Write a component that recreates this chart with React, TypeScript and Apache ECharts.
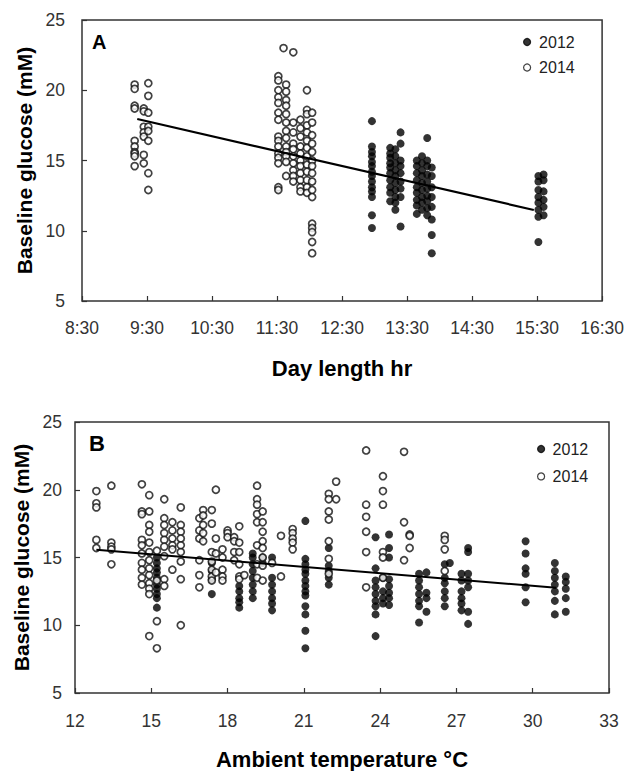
import React, { useEffect, useRef } from "react";
import * as echarts from "echarts";

// ---------- Panel A: day length (decimal hours) vs baseline glucose (mM) ----------
const DAY_AXIS_START = 8.5; // 8:30
const DAY_AXIS_END = 16.5; // 16:30

const dayLength2012: [number, number[]][] = [
  [12.96, [17.8, 16.0, 15.6, 15.3, 14.9, 14.6, 14.2, 13.9, 13.5, 13.1, 12.8, 12.4, 11.1, 10.2]],
  [13.24, [15.9, 15.5, 15.2, 14.8, 14.5, 14.1, 13.6, 13.1, 12.7, 12.1]],
  [13.32, [15.8, 15.3, 14.8, 14.3, 13.9, 13.4, 12.9, 12.4, 12.0, 11.5]],
  [13.4, [17.0, 16.2, 15.0, 14.6, 14.1, 13.5, 13.0, 12.4, 10.3]],
  [13.65, [15.0, 14.6, 14.1, 13.6, 13.1, 12.7, 12.2, 11.8, 11.2]],
  [13.73, [15.3, 14.8, 14.3, 13.9, 13.4, 12.9, 12.4, 12.0, 11.5]],
  [13.81, [16.6, 15.0, 14.6, 14.0, 13.5, 13.0, 12.5, 12.1, 11.6, 11.1]],
  [13.88, [14.5, 13.9, 13.1, 12.4, 11.7, 10.8, 9.7, 8.4]],
  [15.52, [13.9, 13.5, 12.9, 12.4, 12.0, 11.5, 11.0, 9.2]],
  [15.6, [14.0, 13.6, 12.8, 12.2, 11.7, 11.1]],
];

const dayLength2014: [number, number[]][] = [
  [9.31, [20.4, 20.1, 18.9, 18.7, 16.4, 16.0, 15.6, 15.5, 15.3, 14.6]],
  [9.45, [18.7, 18.5, 17.4, 17.0, 16.7, 15.4, 14.8]],
  [9.52, [20.5, 19.6, 18.4, 17.4, 17.1, 16.4, 14.1, 12.9]],
  [11.52, [21.0, 20.7, 20.0, 19.5, 19.1, 18.4, 17.9, 16.7, 16.4, 16.0, 15.5, 15.2, 14.8, 13.1, 12.9]],
  [11.6, [23.0]],
  [11.64, [20.4, 19.9, 19.3, 18.9, 18.3, 17.7, 17.1, 16.6, 16.0, 15.6, 15.3, 14.9, 13.9]],
  [11.75, [22.7, 17.7, 17.0, 16.2, 15.8, 15.3, 14.8, 14.3, 13.9, 13.5]],
  [11.86, [17.9, 17.3, 16.7, 16.0, 15.5, 15.0, 14.6, 14.1, 13.6, 13.1, 12.8]],
  [11.96, [20.0, 18.6, 18.3, 17.5, 17.0, 16.4, 15.9, 15.3, 14.7, 14.2, 13.6, 13.1, 12.7]],
  [12.04, [18.4, 17.7, 16.8, 16.2, 15.6, 15.0, 14.6, 14.1, 13.5, 12.9, 12.4, 10.5, 10.2, 9.9, 9.2, 8.4]],
];

const dayLengthTrend: [number, number][] = [
  [9.35, 17.95],
  [15.45, 11.48],
];

// ---------- Panel B: ambient temperature (°C) vs baseline glucose (mM) ----------
const temp2012: [number, number[]][] = [
  [15.22, [15.0, 14.6, 14.2, 13.9, 13.5, 13.0, 12.7, 12.3, 12.0, 11.3]],
  [17.38, [14.6, 14.0, 13.4, 12.3]],
  [18.46, [12.9, 12.5, 12.0, 11.7, 11.3]],
  [18.99, [15.3, 15.0, 14.5, 14.0, 13.5, 13.0, 12.5, 12.0]],
  [19.38, [15.0, 14.6]],
  [19.75, [15.0, 13.5, 13.0, 12.5, 12.0, 11.6, 11.1]],
  [21.06, [17.7, 14.9, 14.5, 14.1, 13.8, 13.3, 12.9, 12.5, 12.2, 11.4, 10.8, 9.6, 8.3]],
  [21.98, [15.7, 14.4, 14.0, 13.5, 13.0]],
  [23.82, [16.5, 14.2, 13.3, 12.8, 12.3, 11.8, 11.4, 10.8, 9.2]],
  [24.11, [13.5, 12.5, 12.0, 11.6]],
  [24.35, [16.7, 15.7, 15.0, 13.4, 12.9, 12.4, 12.0, 11.5]],
  [25.53, [13.8, 13.3, 12.8, 12.3, 11.8, 11.4, 10.2]],
  [25.82, [13.9, 12.4, 12.0, 11.0]],
  [26.54, [14.5, 13.5, 13.1, 12.5, 12.0, 11.4]],
  [26.74, [14.6]],
  [27.2, [13.8, 13.3, 12.5, 12.0, 11.6, 11.1]],
  [27.46, [15.7, 15.4, 13.8, 13.3, 12.8, 11.0, 10.1]],
  [29.72, [16.2, 15.3, 14.2, 13.8, 12.8, 11.7]],
  [30.87, [14.6, 14.0, 13.5, 13.0, 12.5, 11.8, 10.8]],
  [31.3, [13.6, 13.2, 12.7, 12.0, 11.0]],
];

const temp2014: [number, number[]][] = [
  [12.84, [19.9, 19.0, 18.7, 16.3, 15.7]],
  [13.43, [20.3, 16.1, 15.8, 15.6, 14.5]],
  [14.63, [20.4, 18.4, 18.2, 16.3, 15.9, 15.3, 14.6, 14.1, 13.5, 13.0]],
  [14.92, [19.6, 18.4, 17.4, 16.9, 16.1, 15.4, 14.8, 14.2, 13.7, 13.1, 12.7, 12.3, 9.2]],
  [15.22, [15.5, 13.3, 10.3, 8.3]],
  [15.51, [19.3, 17.9, 17.4, 16.8, 16.3, 15.8, 15.1, 13.4, 12.9]],
  [15.83, [17.6, 17.0, 16.4, 15.9, 15.6, 14.1]],
  [16.16, [18.7, 17.4, 16.9, 16.4, 15.9, 15.4, 14.7, 13.4, 10.0]],
  [16.89, [17.9, 17.0, 16.4, 14.8, 13.7, 12.8]],
  [17.04, [18.5, 18.1, 17.4, 16.8, 16.2]],
  [17.38, [18.5, 17.5, 15.4, 14.7, 14.1, 13.6, 13.3]],
  [17.54, [20.0, 16.4, 15.3, 13.9]],
  [17.8, [15.6, 15.0, 14.1, 13.6, 13.3]],
  [18.0, [17.0, 16.8, 16.5]],
  [18.26, [16.5, 16.2, 15.4, 14.8]],
  [18.46, [17.3, 16.1, 15.4, 14.5, 13.6, 13.4]],
  [18.66, [13.7]],
  [19.16, [20.3, 19.3, 18.9, 18.2, 17.6, 15.9, 14.5, 13.5]],
  [19.38, [18.4, 17.6, 16.9, 16.2, 15.7, 15.0, 14.4, 13.3]],
  [19.75, [14.6]],
  [20.1, [16.6, 13.6]],
  [20.56, [17.1, 16.8, 16.4, 16.1, 15.6]],
  [21.98, [19.7, 19.3, 18.4, 17.8, 16.2, 14.9, 13.8]],
  [22.27, [20.6, 19.3]],
  [23.45, [22.9, 18.9, 18.0, 16.9, 15.4, 12.8]],
  [24.11, [21.0, 19.9, 18.9, 15.4, 15.0, 13.5]],
  [24.94, [22.8, 17.6, 14.8]],
  [25.16, [16.7, 16.6, 15.7]],
  [26.54, [16.6, 16.3, 15.6, 14.0]],
];

const tempTrend: [number, number][] = [
  [12.84, 15.57],
  [30.92, 12.77],
];

const YEAR_LABELS = ["2012", "2014"];
const Y_TITLE = "Baseline glucose (mM)";
const X_TITLE_A = "Day length hr";
const X_TITLE_B = "Ambient temperature °C";

// ---------- helpers ----------
const flatten = (cols: [number, number[]][], shift = 0) =>
  cols.flatMap(([x, ys]) => ys.map((y) => [x - shift, y]));

const hm = (v: number) => {
  const h = v + DAY_AXIS_START;
  let hh = Math.floor(h + 1e-9);
  let mm = Math.round((h - hh) * 60);
  if (mm === 60) {
    hh += 1;
    mm = 0;
  }
  return `${hh}:${String(mm).padStart(2, "0")}`;
};

const SANS = "'Liberation Sans', Arial, sans-serif";

const openStyle = { color: "#fff", borderColor: "#111", borderWidth: 1.7 };
const filledStyle = { color: "#000", borderColor: "#000", borderWidth: 0 };

export default function App() {
  const ref = useRef<HTMLDivElement>(null);

  useEffect(() => {
    if (!ref.current) return;
    const chart = echarts.init(ref.current, undefined, { renderer: "svg" });

    const axisLabelStyle = {
      fontFamily: SANS,
      fontSize: 17.5,
      color: "#333",
    };
    const nameStyle = {
      fontFamily: SANS,
      fontSize: 21,
      fontWeight: "bold" as const,
      color: "#000",
    };

    const yAxisCommon = (labelMargin: number, nameGap: number) => ({
      type: "value" as const,
      min: 5,
      max: 25,
      interval: 5,
      name: Y_TITLE,
      nameLocation: "middle" as const,
      nameGap,
      nameTextStyle: nameStyle,
      axisLine: { show: false },
      axisTick: { show: true, inside: true, length: 5, lineStyle: { color: "#333", width: 1.2 } },
      axisLabel: { ...axisLabelStyle, margin: labelMargin },
      splitLine: { show: false },
    });

    const option: any = {
      animation: false,
      backgroundColor: "#fff",
      title: [
        {
          text: "A",
          left: 92,
          top: 32,
          padding: 0,
          textStyle: { fontFamily: SANS, fontSize: 20, fontWeight: "bold", color: "#000" },
        },
        {
          text: "B",
          left: 89,
          top: 432,
          padding: 0,
          textStyle: { fontFamily: SANS, fontSize: 22, fontWeight: "bold", color: "#000" },
        },
      ],
      legend: [
        {
          data: YEAR_LABELS,
          orient: "vertical",
          left: 523,
          top: 34,
          padding: 0,
          itemWidth: 14,
          itemHeight: 7,
          itemGap: 9.5,
          selectedMode: false,
          itemStyle: { borderWidth: 1.2 },
          textStyle: { fontFamily: SANS, fontSize: 16, color: "#222" },
        },
        {
          data: YEAR_LABELS,
          orient: "vertical",
          left: 537,
          top: 441,
          padding: 0,
          itemWidth: 13,
          itemHeight: 7,
          itemGap: 11.4,
          selectedMode: false,
          itemStyle: { borderWidth: 1.2 },
          textStyle: { fontFamily: SANS, fontSize: 16, color: "#222" },
        },
      ],
      grid: [
        {
          left: 82,
          right: 24,
          top: 20,
          height: 281,
          show: true,
          borderColor: "#333",
          borderWidth: 1.5,
          backgroundColor: "transparent",
        },
        {
          left: 75,
          right: 18,
          top: 422,
          height: 276,
          show: true,
          borderColor: "#333",
          borderWidth: 1.5,
          backgroundColor: "transparent",
        },
      ],
      xAxis: [
        {
          gridIndex: 0,
          type: "value",
          min: 0,
          max: DAY_AXIS_END - DAY_AXIS_START,
          interval: 1,
          name: X_TITLE_A,
          nameLocation: "middle",
          nameGap: 56,
          nameTextStyle: { ...nameStyle, fontSize: 22 },
          axisLine: { show: false },
          axisTick: { show: true, inside: true, length: 5, lineStyle: { color: "#333", width: 1.2 } },
          axisLabel: { ...axisLabelStyle, margin: 18, formatter: (v: number) => hm(v) },
          splitLine: { show: false },
        },
        {
          gridIndex: 1,
          type: "value",
          min: 12,
          max: 33,
          interval: 3,
          name: X_TITLE_B,
          nameLocation: "middle",
          nameGap: 55,
          nameTextStyle: { ...nameStyle, fontSize: 22 },
          axisLine: { show: false },
          axisTick: { show: true, inside: true, length: 5, lineStyle: { color: "#333", width: 1.2 } },
          axisLabel: { ...axisLabelStyle, margin: 19 },
          splitLine: { show: false },
        },
      ],
      yAxis: [
        { gridIndex: 0, ...yAxisCommon(17, 47) },
        { gridIndex: 1, ...yAxisCommon(13, 40) },
      ],
      series: [
        {
          name: "2012",
          type: "scatter",
          xAxisIndex: 0,
          yAxisIndex: 0,
          symbol: "circle",
          symbolSize: 8,
          itemStyle: filledStyle,
          data: flatten(dayLength2012, DAY_AXIS_START),
          silent: true,
        },
        {
          name: "2014",
          type: "scatter",
          xAxisIndex: 0,
          yAxisIndex: 0,
          symbol: "circle",
          symbolSize: 7,
          itemStyle: openStyle,
          data: flatten(dayLength2014, DAY_AXIS_START),
          silent: true,
        },
        {
          name: "trendA",
          type: "line",
          xAxisIndex: 0,
          yAxisIndex: 0,
          symbol: "none",
          lineStyle: { color: "#000", width: 2.2 },
          data: dayLengthTrend.map(([x, y]) => [x - DAY_AXIS_START, y]),
          z: 5,
          silent: true,
        },
        {
          name: "2012",
          type: "scatter",
          xAxisIndex: 1,
          yAxisIndex: 1,
          symbol: "circle",
          symbolSize: 8,
          itemStyle: filledStyle,
          data: flatten(temp2012),
          silent: true,
        },
        {
          name: "2014",
          type: "scatter",
          xAxisIndex: 1,
          yAxisIndex: 1,
          symbol: "circle",
          symbolSize: 7,
          itemStyle: openStyle,
          data: flatten(temp2014),
          silent: true,
        },
        {
          name: "trendB",
          type: "line",
          xAxisIndex: 1,
          yAxisIndex: 1,
          symbol: "none",
          lineStyle: { color: "#000", width: 2 },
          data: tempTrend,
          z: 5,
          silent: true,
        },
      ],
    };

    chart.setOption(option);
    return () => {
      chart.dispose();
    };
  }, []);

  return (
    <div
      ref={ref}
      style={{ position: "absolute", left: 0, top: 0, width: 627, height: 771, background: "#fff" }}
    />
  );
}
